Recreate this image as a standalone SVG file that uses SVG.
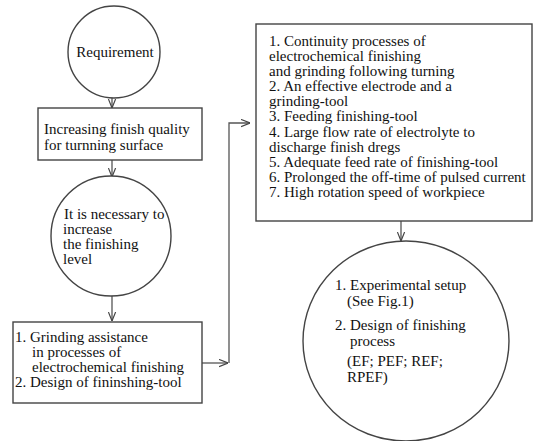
<svg xmlns="http://www.w3.org/2000/svg" width="535" height="441" viewBox="0 0 535 441">
<defs>
<style>
.n{fill:#fff;stroke:#444;stroke-width:1.4}
.t{font-size:15px;fill:#111}
.c{fill:none;stroke:#555;stroke-width:1.3}
</style>
<marker id="v" viewBox="0 0 10 10" refX="10" refY="5" markerWidth="9" markerHeight="9" orient="auto" markerUnits="userSpaceOnUse">
<path d="M0,1 L10,5 L0,9" fill="none" stroke="#444" stroke-width="1.3"/>
</marker>
</defs>
<rect width="535" height="441" fill="#fff"/>
<g id="connectors">
<line class="c" x1="112" y1="97" x2="112" y2="108" marker-end="url(#v)"/>
<line class="c" x1="112" y1="160" x2="112" y2="177" marker-end="url(#v)"/>
<line class="c" x1="112" y1="296" x2="112" y2="321" marker-end="url(#v)"/>
<line class="c" x1="202" y1="363" x2="228" y2="363" marker-end="url(#v)"/>
<polyline class="c" points="229,363 229,123 250,123" marker-end="url(#v)"/>
<line class="c" x1="401" y1="221" x2="401" y2="241" marker-end="url(#v)"/>
</g>
<g font-family="'Liberation Serif', 'Times New Roman', 'DejaVu Serif', serif">
<g id="requirement">
<circle class="n" cx="114" cy="52" r="46"/>
<text class="t" x="115" y="57" text-anchor="middle">Requirement</text>
</g>
<g id="increasing">
<rect class="n" x="38" y="108" width="164" height="52"/>
<text class="t" x="44" y="134">Increasing finish quality</text>
<text class="t" x="44" y="150">for turnning surface</text>
</g>
<g id="necessary">
<circle class="n" cx="111" cy="236" r="60"/>
<text class="t" x="64" y="219">It is necessary to</text>
<text class="t" x="63" y="234">increase</text>
<text class="t" x="63" y="249">the finishing</text>
<text class="t" x="63" y="264">level</text>
</g>
<g id="grinding">
<rect class="n" x="13" y="322" width="189" height="81"/>
<text class="t" x="15" y="342">1. Grinding assistance</text>
<text class="t" x="32" y="357">in processes of</text>
<text class="t" x="32" y="372">electrochemical finishing</text>
<text class="t" x="15" y="387">2. Design of fininshing-tool</text>
</g>
<g id="conditions">
<rect class="n" x="256" y="24" width="276" height="197"/>
<text class="t" x="269" y="46">1. Continuity processes of</text>
<text class="t" x="269" y="61">electrochemical finishing</text>
<text class="t" x="269" y="76">and grinding following turning</text>
<text class="t" x="269" y="91">2. An effective electrode and a</text>
<text class="t" x="269" y="106">grinding-tool</text>
<text class="t" x="269" y="121">3. Feeding finishing-tool</text>
<text class="t" x="269" y="137">4. Large flow rate of electrolyte to</text>
<text class="t" x="269" y="152">discharge finish dregs</text>
<text class="t" x="269" y="167">5. Adequate feed rate of finishing-tool</text>
<text class="t" x="269" y="182">6. Prolonged the off-time of pulsed current</text>
<text class="t" x="269" y="197">7. High rotation speed of workpiece</text>
</g>
<g id="setup">
<ellipse class="n" cx="406" cy="341" rx="103" ry="100"/>
<text class="t" x="335" y="290">1. Experimental setup</text>
<text class="t" x="347" y="306">(See Fig.1)</text>
<text class="t" x="335" y="330">2. Design of finishing</text>
<text class="t" x="350" y="346">process</text>
<text class="t" x="347" y="366">(EF; PEF; REF;</text>
<text class="t" x="347" y="382">RPEF)</text>
</g>
</g>
</svg>
